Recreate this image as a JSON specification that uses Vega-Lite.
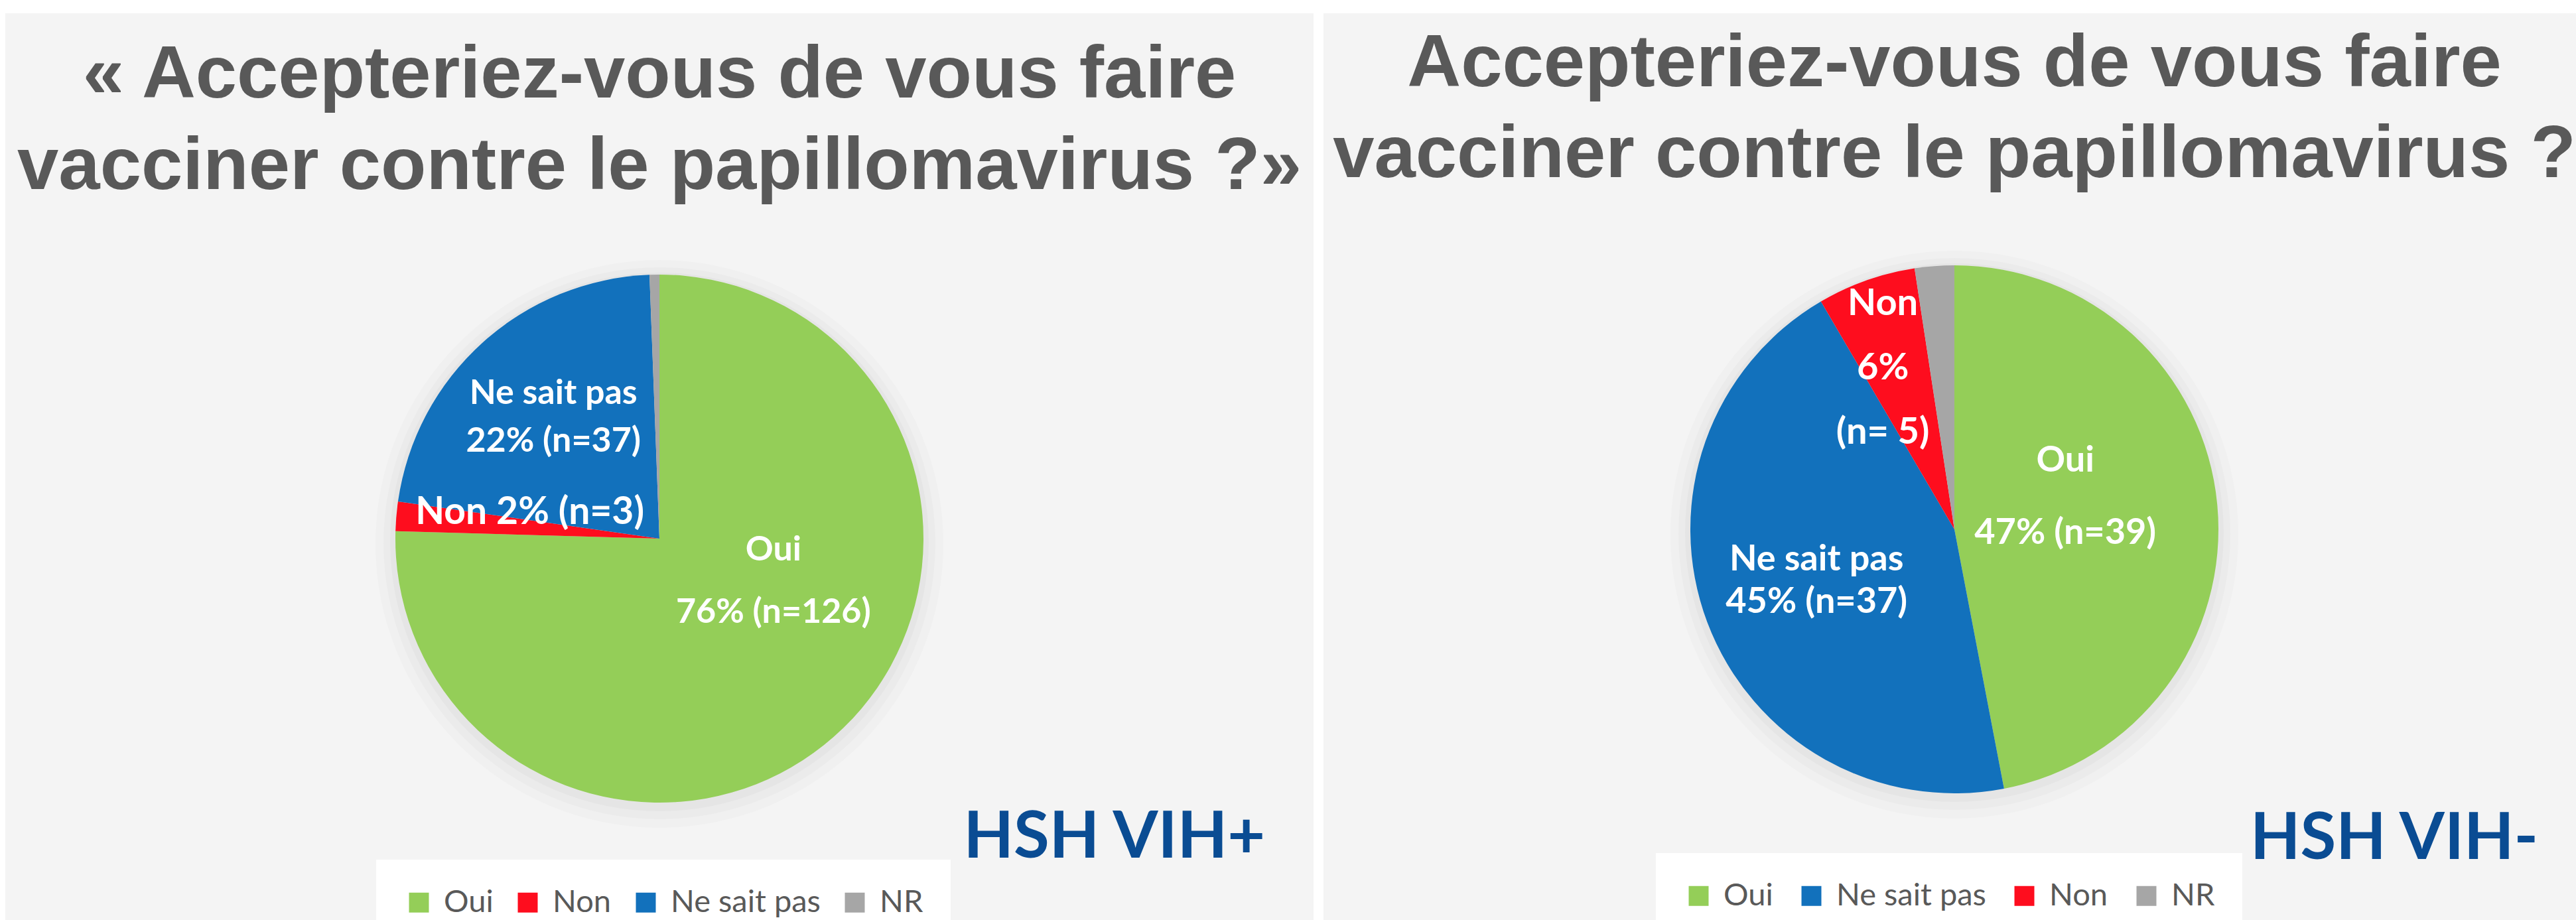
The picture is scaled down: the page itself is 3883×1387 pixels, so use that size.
{
  "$schema": "https://vega.github.io/schema/vega-lite/v6.json",
  "background": "#FFFFFF",
  "padding": {"left": 8, "top": 20, "right": 0, "bottom": 0},
  "spacing": 15,
  "datasets": {
    "vihplus": [
      {"reponse": "Oui", "n": 126, "rang": 1, "etiquette": "Oui\n76% (n=126)"},
      {"reponse": "Non", "n": 3, "rang": 2, "etiquette": "Non 2% (n=3)"},
      {"reponse": "Ne sait pas", "n": 37, "rang": 3, "etiquette": "Ne sait pas\n22% (n=37)"},
      {"reponse": "NR", "n": 1, "rang": 4, "etiquette": ""}
    ],
    "vihmoins": [
      {"reponse": "Oui", "n": 39, "rang": 1, "etiquette": "Oui\n47% (n=39)"},
      {"reponse": "Ne sait pas", "n": 37, "rang": 2, "etiquette": "Ne sait pas\n45% (n=37)"},
      {"reponse": "Non", "n": 5, "rang": 3, "etiquette": "Non\n6%\n(n= 5)"},
      {"reponse": "NR", "n": 2, "rang": 4, "etiquette": ""}
    ]
  },
  "resolve": {"scale": {"color": "independent", "theta": "independent"}, "legend": {"color": "independent"}},
  "hconcat": [
    {
      "title": {"text": "HSH VIH+", "orient": "bottom", "anchor": "end", "offset": -311, "dx": -73, "baseline": "alphabetic", "font": "Lato", "fontSize": 98, "fontWeight": "bold", "color": "#0A4C93"},
      "resolve": {"scale": {"color": "independent", "theta": "independent"}, "legend": {"color": "independent"}},
      "vconcat": [
        {
          "width": 1972,
          "height": 1584,
          "view": {"fill": "#F4F4F4", "stroke": null},
          "title": {"text": ["« Accepteriez-vous de vous faire", "vacciner contre le papillomavirus ?»"], "orient": "top", "anchor": "middle", "frame": "group", "offset": -289, "font": "Liberation Sans", "fontSize": 112, "fontWeight": "bold", "color": "#595959", "lineHeight": 138},
          "data": {"name": "vihplus"},
          "layer": [
            {"transform": [{"aggregate": [{"op": "sum", "field": "n", "as": "total"}]}], "mark": {"type": "arc", "outerRadius": 428, "fill": "#000000", "opacity": 0.015, "yOffset": 8}, "encoding": {"theta": {"field": "total", "type": "quantitative"}}},
            {"transform": [{"aggregate": [{"op": "sum", "field": "n", "as": "total"}]}], "mark": {"type": "arc", "outerRadius": 416, "fill": "#000000", "opacity": 0.02, "yOffset": 7}, "encoding": {"theta": {"field": "total", "type": "quantitative"}}},
            {"transform": [{"aggregate": [{"op": "sum", "field": "n", "as": "total"}]}], "mark": {"type": "arc", "outerRadius": 406, "fill": "#000000", "opacity": 0.025, "yOffset": 5}, "encoding": {"theta": {"field": "total", "type": "quantitative"}}},
            {
              "mark": {"type": "arc", "outerRadius": 398, "strokeWidth": 0},
              "encoding": {
                "theta": {"field": "n", "type": "quantitative", "stack": true},
                "order": {"field": "rang", "type": "quantitative"},
                "color": {
                  "field": "reponse", "type": "nominal",
                  "scale": {"domain": ["Oui", "Non", "Ne sait pas", "NR"], "range": ["#94CE58", "#FE0D1E", "#1271BC", "#A6A6A6"]},
                  "legend": {"title": null, "orient": "none", "legendX": 559, "legendY": 1276, "direction": "horizontal", "symbolType": "square", "symbolSize": 900, "symbolStrokeWidth": 0, "symbolOpacity": 1, "labelFont": "Lato", "labelFontSize": 47, "labelColor": "#595959", "labelOffset": 14, "columnPadding": 28, "padding": 41, "fillColor": "#FFFFFF", "labelLimit": 1000}
                }
              }
            },
            {
              "mark": {"type": "text", "radius": 182, "dx": 45, "dy": -113, "lineBreak": "\n", "lineHeight": 94, "font": "Lato", "fontSize": 52, "fontWeight": "bold", "color": "#FFFFFF", "align": "center", "baseline": "middle"},
              "encoding": {"theta": {"field": "n", "type": "quantitative", "stack": true}, "order": {"field": "rang", "type": "quantitative"}, "text": {"condition": {"test": "datum.reponse === 'Oui'", "field": "etiquette"}, "value": ""}}
            },
            {
              "mark": {"type": "text", "radius": 198, "dx": 2, "dy": -22, "lineBreak": "\n", "font": "Lato", "fontSize": 57, "fontWeight": "bold", "color": "#FFFFFF", "align": "center", "baseline": "middle"},
              "encoding": {"theta": {"field": "n", "type": "quantitative", "stack": true}, "order": {"field": "rang", "type": "quantitative"}, "text": {"condition": {"test": "datum.reponse === 'Non'", "field": "etiquette"}, "value": ""}}
            },
            {
              "mark": {"type": "text", "radius": 243, "dx": 3, "dy": -39, "lineBreak": "\n", "lineHeight": 72, "font": "Lato", "fontSize": 52, "fontWeight": "bold", "color": "#FFFFFF", "align": "center", "baseline": "middle"},
              "encoding": {"theta": {"field": "n", "type": "quantitative", "stack": true}, "order": {"field": "rang", "type": "quantitative"}, "text": {"condition": {"test": "datum.reponse === 'Ne sait pas'", "field": "etiquette"}, "value": ""}}
            }
          ]
        }
      ]
    },
    {
      "title": {"text": "HSH VIH-", "orient": "bottom", "anchor": "end", "offset": -281, "dx": -71, "baseline": "alphabetic", "font": "Lato", "fontSize": 98, "fontWeight": "bold", "color": "#0A4C93"},
      "resolve": {"scale": {"color": "independent", "theta": "independent"}, "legend": {"color": "independent"}},
      "vconcat": [
        {
          "width": 1902,
          "height": 1556,
          "view": {"fill": "#F4F4F4", "stroke": null},
          "title": {"text": ["Accepteriez-vous de vous faire", "vacciner contre le papillomavirus ?"], "orient": "top", "anchor": "middle", "frame": "group", "offset": -271, "font": "Liberation Sans", "fontSize": 112, "fontWeight": "bold", "color": "#595959", "lineHeight": 137},
          "data": {"name": "vihmoins"},
          "layer": [
            {"transform": [{"aggregate": [{"op": "sum", "field": "n", "as": "total"}]}], "mark": {"type": "arc", "outerRadius": 428, "fill": "#000000", "opacity": 0.015, "yOffset": 8}, "encoding": {"theta": {"field": "total", "type": "quantitative"}}},
            {"transform": [{"aggregate": [{"op": "sum", "field": "n", "as": "total"}]}], "mark": {"type": "arc", "outerRadius": 416, "fill": "#000000", "opacity": 0.02, "yOffset": 7}, "encoding": {"theta": {"field": "total", "type": "quantitative"}}},
            {"transform": [{"aggregate": [{"op": "sum", "field": "n", "as": "total"}]}], "mark": {"type": "arc", "outerRadius": 406, "fill": "#000000", "opacity": 0.025, "yOffset": 5}, "encoding": {"theta": {"field": "total", "type": "quantitative"}}},
            {
              "mark": {"type": "arc", "outerRadius": 398, "strokeWidth": 0},
              "encoding": {
                "theta": {"field": "n", "type": "quantitative", "stack": true},
                "order": {"field": "rang", "type": "quantitative"},
                "color": {
                  "field": "reponse", "type": "nominal",
                  "scale": {"domain": ["Oui", "Ne sait pas", "Non", "NR"], "range": ["#94CE58", "#1271BC", "#FE0D1E", "#A6A6A6"]},
                  "legend": {"title": null, "orient": "none", "legendX": 501, "legendY": 1266, "direction": "horizontal", "symbolType": "square", "symbolSize": 900, "symbolStrokeWidth": 0, "symbolOpacity": 1, "labelFont": "Lato", "labelFontSize": 47, "labelColor": "#595959", "labelOffset": 14, "columnPadding": 34, "padding": 41, "fillColor": "#FFFFFF", "labelLimit": 1000}
                }
              }
            },
            {
              "mark": {"type": "text", "radius": 174, "dx": -6, "dy": -87, "lineBreak": "\n", "lineHeight": 109, "font": "Lato", "fontSize": 54, "fontWeight": "bold", "color": "#FFFFFF", "align": "center", "baseline": "middle"},
              "encoding": {"theta": {"field": "n", "type": "quantitative", "stack": true}, "order": {"field": "rang", "type": "quantitative"}, "text": {"condition": {"test": "datum.reponse === 'Oui'", "field": "etiquette"}, "value": ""}}
            },
            {
              "mark": {"type": "text", "radius": 222, "dx": 0, "dy": -32, "lineBreak": "\n", "lineHeight": 64, "font": "Lato", "fontSize": 54, "fontWeight": "bold", "color": "#FFFFFF", "align": "center", "baseline": "middle"},
              "encoding": {"theta": {"field": "n", "type": "quantitative", "stack": true}, "order": {"field": "rang", "type": "quantitative"}, "text": {"condition": {"test": "datum.reponse === 'Ne sait pas'", "field": "etiquette"}, "value": ""}}
            },
            {
              "mark": {"type": "text", "radius": 266, "dx": -19, "dy": -89, "lineBreak": "\n", "lineHeight": 97, "font": "Lato", "fontSize": 56, "fontWeight": "bold", "color": "#FFFFFF", "align": "center", "baseline": "middle"},
              "encoding": {"theta": {"field": "n", "type": "quantitative", "stack": true}, "order": {"field": "rang", "type": "quantitative"}, "text": {"condition": {"test": "datum.reponse === 'Non'", "field": "etiquette"}, "value": ""}}
            }
          ]
        }
      ]
    }
  ],
  "config": {"view": {"stroke": null}}
}
